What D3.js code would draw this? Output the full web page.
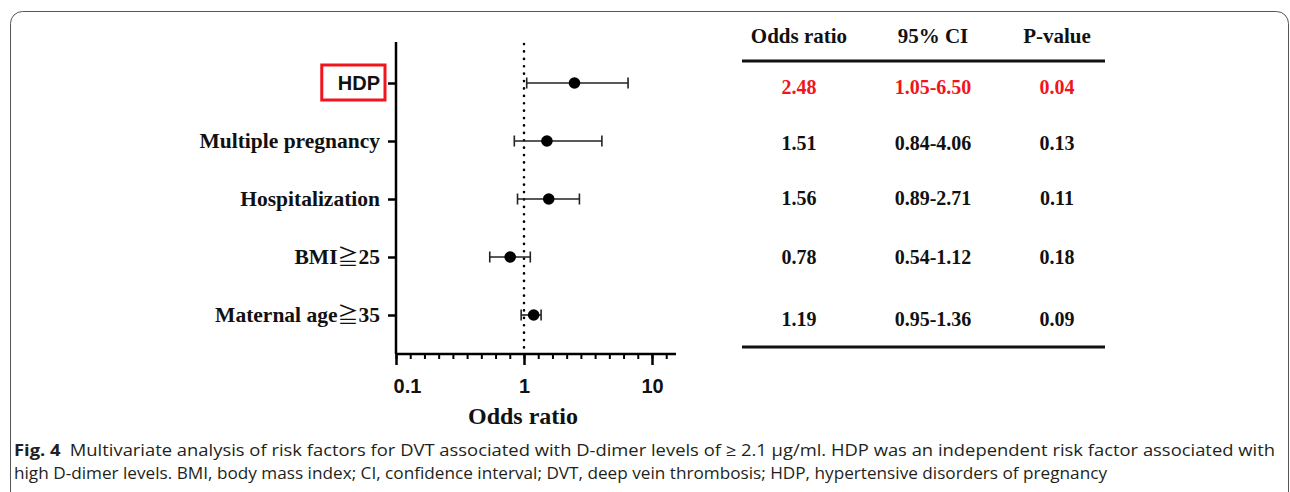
<!DOCTYPE html>
<html lang="en">
<head>
    <meta charset="UTF-8">
    <title>Fig 4 forest plot</title>
    <style>
        body { margin: 0; background: #fff; }
        svg { display: block; }
    </style>
</head>
<body>
    <div id="chart"></div>

    <script src="https://d3js.org/d3.v7.min.js"></script>
    <script>
        // data
        var factors = ["HDP", "Multiple pregnancy", "Hospitalization", "BMI\u226725", "Maternal age\u226735"];
        var oddsRatio = [2.48, 1.51, 1.56, 0.78, 1.19];
        var ciLow = [1.05, 0.84, 0.89, 0.54, 0.95];
        var ciHigh = [6.50, 4.06, 2.71, 1.12, 1.36];
        var pValue = ["0.04", "0.13", "0.11", "0.18", "0.09"];
        var tableHeaders = ["Odds ratio", "95% CI", "P-value"];
        var majorTicks = [0.1, 1, 10];
        var highlight = 0; // HDP row is drawn in red

        var W = 1290, H = 492;
        var red = "#f2141c";
        var serif = "'Liberation Serif', 'Times New Roman', serif";
        var sans = "'Liberation Sans', Arial, sans-serif";

        var svg = d3.select("#chart").append("svg")
            .attr("width", W)
            .attr("height", H);

        // outer rounded frame of the figure panel
        svg.append("rect")
            .attr("x", 10.5).attr("y", 11.5)
            .attr("width", 1278).attr("height", 520)
            .attr("rx", 12)
            .attr("fill", "none")
            .attr("stroke", "#555")
            .attr("stroke-width", 1);

        // scales
        var x = d3.scaleLog().domain([0.1, 10]).range([396, 652]);
        var axisMax = 10 * Math.pow(10, 24 / 128);
        var y = d3.scalePoint().domain(factors).range([83, 315]);
        var axisY = 354;

        // minor ticks: evenly spaced, 9 per decade (Prism style)
        var minorTicks = d3.range(0, 20).map(function(k) { return Math.pow(10, -1 + k / 9); });

        // y axis
        svg.append("line")
            .attr("x1", 396).attr("x2", 396)
            .attr("y1", 42).attr("y2", axisY)
            .attr("stroke", "#000").attr("stroke-width", 2.5);

        var yAxis = svg.append("g")
            .attr("transform", "translate(396,0)")
            .call(d3.axisLeft(y).tickSize(8).tickFormat(""));
        yAxis.select(".domain").remove();
        yAxis.selectAll(".tick line").attr("stroke", "#000").attr("stroke-width", 2.5);

        // category labels
        var labels = svg.selectAll(".factor")
            .data(factors)
            .enter()
            .append("text")
            .attr("class", "factor")
            .attr("x", 380)
            .attr("y", function(d) { return y(d) + 7; })
            .attr("text-anchor", "end")
            .style("font-family", function(d, i) { return i === highlight ? sans : serif; })
            .style("font-weight", "bold")
            .style("font-size", function(d, i) { return i === highlight ? "20px" : "21.5px"; })
            .attr("fill", "#111");

        labels.each(function(d) {
            var t = d3.select(this);
            var k = d.indexOf("\u2267");
            if (k < 0) { t.text(d); return; }
            t.append("tspan").text(d.slice(0, k));
            t.append("tspan")
                .style("font-family", "'Noto Sans CJK JP', 'Noto Sans CJK SC', sans-serif")
                .style("font-weight", "normal")
                .style("font-size", "21px")
                .text("\u2267");
            t.append("tspan").text(d.slice(k + 1));
        });

        // red box round HDP
        var hdpNode = labels.filter(function(d, i) { return i === highlight; }).node();
        var bb = hdpNode.getBBox();
        svg.append("rect")
            .attr("x", bb.x - 16).attr("y", y(factors[highlight]) - 18)
            .attr("width", bb.width + 21).attr("height", 35)
            .attr("fill", "none")
            .attr("stroke", red)
            .attr("stroke-width", 3);

        // x axis line
        svg.append("line")
            .attr("x1", 396).attr("x2", x(axisMax))
            .attr("y1", axisY).attr("y2", axisY)
            .attr("stroke", "#000").attr("stroke-width", 2.5);

        var minorAxis = svg.append("g")
            .attr("transform", "translate(0," + axisY + ")")
            .call(d3.axisBottom(x).tickValues(minorTicks).tickSize(5).tickFormat(""));
        minorAxis.select(".domain").remove();
        minorAxis.selectAll(".tick line").attr("stroke", "#000").attr("stroke-width", 2);

        var majorAxis = svg.append("g")
            .attr("transform", "translate(0," + axisY + ")")
            .call(d3.axisBottom(x).tickValues(majorTicks).tickSize(11).tickPadding(14)
                .tickFormat(function(d) { return d3.format("~g")(d); }));
        majorAxis.select(".domain").remove();
        majorAxis.selectAll(".tick line").attr("stroke", "#000").attr("stroke-width", 2.5);
        majorAxis.selectAll(".tick text")
            .style("font-family", sans)
            .style("font-weight", "bold")
            .style("font-size", "20px")
            .attr("fill", "#111")
            .attr("dx", function(d, i) { return i === 0 ? 11 : 0; });

        svg.append("text")
            .attr("x", 523).attr("y", 424)
            .attr("text-anchor", "middle")
            .style("font-family", serif)
            .style("font-weight", "bold")
            .style("font-size", "24px")
            .attr("fill", "#111")
            .text("Odds ratio");

        // reference line at OR = 1
        svg.append("line")
            .attr("x1", x(1)).attr("x2", x(1))
            .attr("y1", 44).attr("y2", 348)
            .attr("stroke", "#000")
            .attr("stroke-width", 2.6)
            .attr("stroke-linecap", "round")
            .attr("stroke-dasharray", "0.1,7.3");

        // error bars
        var rows = factors.map(function(f, i) {
            return { name: f, or: oddsRatio[i], lo: ciLow[i], hi: ciHigh[i] };
        });

        var g = svg.append("g");
        g.selectAll(".ci")
            .data(rows)
            .enter()
            .append("line")
            .attr("x1", function(d) { return x(d.lo); })
            .attr("x2", function(d) { return x(d.hi); })
            .attr("y1", function(d) { return y(d.name); })
            .attr("y2", function(d) { return y(d.name); })
            .attr("stroke", "#222").attr("stroke-width", 1.6);

        ["lo", "hi"].forEach(function(k) {
            g.selectAll(".cap-" + k)
                .data(rows)
                .enter()
                .append("line")
                .attr("x1", function(d) { return x(d[k]); })
                .attr("x2", function(d) { return x(d[k]); })
                .attr("y1", function(d) { return y(d.name) - 5.5; })
                .attr("y2", function(d) { return y(d.name) + 5.5; })
                .attr("stroke", "#222").attr("stroke-width", 1.6);
        });

        g.selectAll(".dot")
            .data(rows)
            .enter()
            .append("circle")
            .attr("cx", function(d) { return x(d.or); })
            .attr("cy", function(d) { return y(d.name); })
            .attr("r", 5.8)
            .attr("fill", "#000");

        // table on the right
        var colX = [799, 933, 1057];
        var rowY = [87, 143, 198, 257, 319];

        svg.selectAll(".head")
            .data(tableHeaders)
            .enter()
            .append("text")
            .attr("x", function(d, i) { return colX[i]; })
            .attr("y", 43)
            .attr("text-anchor", "middle")
            .style("font-family", serif)
            .style("font-weight", "bold")
            .style("font-size", "21px")
            .attr("fill", "#111")
            .text(function(d) { return d; });

        svg.append("line")
            .attr("x1", 742).attr("x2", 1105)
            .attr("y1", 61).attr("y2", 61)
            .attr("stroke", "#111").attr("stroke-width", 3);
        svg.append("line")
            .attr("x1", 742).attr("x2", 1105)
            .attr("y1", 347).attr("y2", 347)
            .attr("stroke", "#111").attr("stroke-width", 3);

        var cells = [];
        rows.forEach(function(d, i) {
            var vals = [d.or.toFixed(2), d.lo.toFixed(2) + "-" + d.hi.toFixed(2), pValue[i]];
            vals.forEach(function(v, j) { cells.push({ row: i, col: j, text: v }); });
        });

        svg.selectAll(".cell")
            .data(cells)
            .enter()
            .append("text")
            .attr("x", function(d) { return colX[d.col]; })
            .attr("y", function(d) { return rowY[d.row] + 7; })
            .attr("text-anchor", "middle")
            .style("font-family", serif)
            .style("font-weight", "bold")
            .style("font-size", "20px")
            .attr("fill", function(d) { return d.row === highlight ? red : "#111"; })
            .text(function(d) { return d.text; });

        // caption
        var capFont = "'Open Sans', 'Noto Sans', sans-serif";
        var cap1 = svg.append("text")
            .attr("x", 14).attr("y", 456)
            .style("font-family", capFont)
            .style("font-size", "16.5px")
            .attr("fill", "#231f20")
            .attr("textLength", 1261)
            .attr("lengthAdjust", "spacingAndGlyphs");
        cap1.append("tspan").style("font-weight", "bold").text("Fig. 4");
        cap1.append("tspan").text("\u2002Multivariate analysis of risk factors for DVT associated with D-dimer levels of \u2265 2.1 \u03bcg/ml. HDP was an independent risk factor associated with");

        svg.append("text")
            .attr("x", 14).attr("y", 479)
            .style("font-family", capFont)
            .style("font-size", "16.5px")
            .attr("fill", "#231f20")
            .attr("textLength", 1093)
            .attr("lengthAdjust", "spacingAndGlyphs")
            .text("high D-dimer levels. BMI, body mass index; CI, confidence interval; DVT, deep vein thrombosis; HDP, hypertensive disorders of pregnancy");
    </script>
</body>
</html>
